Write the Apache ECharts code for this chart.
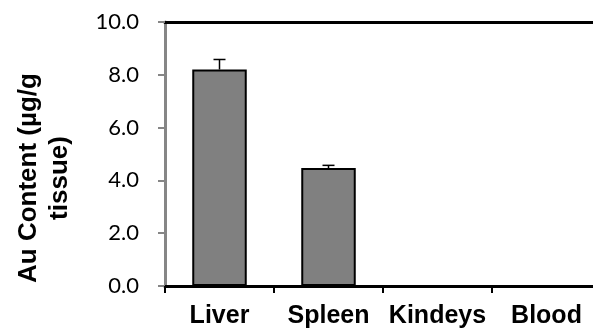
<!DOCTYPE html>
<html>
<head>
<meta charset="utf-8">
<script src="https://cdn.jsdelivr.net/npm/echarts@6/dist/echarts.min.js"></script>
<style>
  html, body { margin: 0; padding: 0; background: #fff; }
  #chart { width: 593px; height: 334px; }
</style>
</head>
<body>
<div id="chart"></div>
<script>
'use strict';

var categories = ['Liver', 'Spleen', 'Kindeys', 'Blood'];
var auContent = [8.2, 4.47, 0, 0];
var auError = [0.38, 0.1, 0, 0];
var yTicks = { min: 0, max: 10, interval: 2 };

var errData = [];
for (var i = 0; i < categories.length; i++) {
  errData.push([i, auContent[i], auError[i]]);
}

function renderError(params, api) {
  var idx = api.value(0);
  var val = api.value(1);
  var err = api.value(2);
  if (!err) {
    return null;
  }
  var base = api.coord([idx, val]);
  var top = api.coord([idx, val + err]);
  var half = 6;
  var style = { stroke: '#000', lineWidth: 1.5 };
  return {
    type: 'group',
    children: [{
      type: 'line',
      shape: { x1: base[0], y1: base[1], x2: top[0], y2: top[1] },
      style: style
    }, {
      type: 'line',
      shape: { x1: top[0] - half, y1: top[1], x2: top[0] + half, y2: top[1] },
      style: style
    }]
  };
}

var option = {
  backgroundColor: '#fff',
  animation: false,
  grid: {
    left: 165,
    right: -8,
    top: 22,
    bottom: 48,
    outerBoundsMode: 'none'
  },
  xAxis: [{
    type: 'category',
    data: categories,
    position: 'bottom',
    axisLine: { lineStyle: { color: '#000', width: 3 } },
    axisTick: { show: true, interval: 0, length: 7, lineStyle: { color: '#000', width: 2 } },
    axisLabel: {
      interval: 0,
      color: '#000',
      fontFamily: 'Liberation Sans, Arial',
      fontWeight: 'bold',
      fontSize: 25,
      margin: 18
    },
    splitLine: { show: false }
  }, {
    type: 'category',
    data: categories,
    position: 'top',
    axisLine: { lineStyle: { color: '#000', width: 3 } },
    axisTick: { show: false },
    axisLabel: { show: false },
    splitLine: { show: false }
  }],
  yAxis: {
    type: 'value',
    min: yTicks.min,
    max: yTicks.max,
    interval: yTicks.interval,
    name: 'Au Content (µg/g\ntissue)',
    nameLocation: 'middle',
    nameRotate: 90,
    nameGap: 90,
    nameTextStyle: {
      color: '#000',
      fontFamily: 'Liberation Sans, Arial',
      fontWeight: 'bold',
      fontSize: 26,
      lineHeight: 31,
      padding: [0, 48, 0, 0]
    },
    axisLine: { show: true, lineStyle: { color: '#868686', width: 3 } },
    axisTick: { show: true, length: 7, lineStyle: { color: '#868686', width: 2 } },
    axisLabel: {
      color: '#000',
      fontFamily: 'Lato',
      fontSize: 22,
      margin: 26,
      formatter: function (v) { return v.toFixed(1); }
    },
    splitLine: { show: false }
  },
  series: [{
    name: 'Au',
    type: 'bar',
    xAxisIndex: 0,
    data: auContent,
    barWidth: '50%',
    itemStyle: {
      color: '#808080',
      borderColor: '#000',
      borderWidth: 2
    }
  }, {
    name: 'error',
    type: 'custom',
    xAxisIndex: 0,
    data: errData,
    renderItem: renderError,
    encode: { x: 0, y: 1 },
    z: 3
  }]
};

var myChart = echarts.init(document.getElementById('chart'));
myChart.setOption(option);
</script>
</body>
</html>
